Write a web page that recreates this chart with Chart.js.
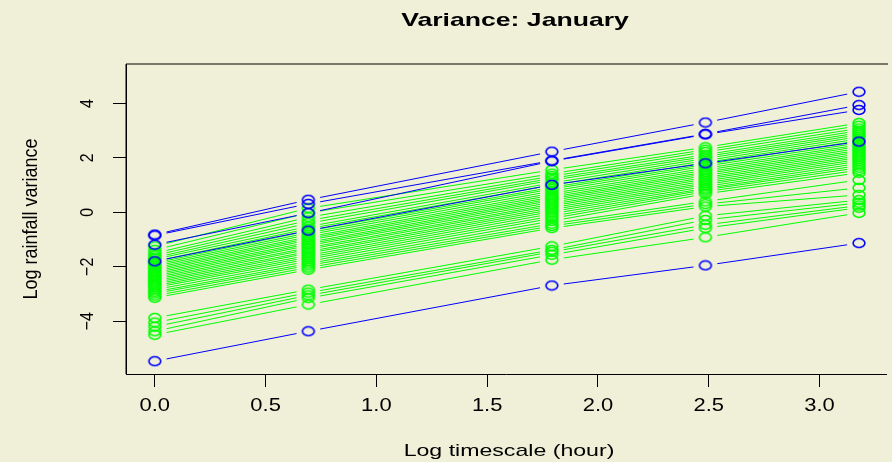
<!DOCTYPE html>
<html>
<head>
<meta charset="utf-8">
<script src="https://cdn.jsdelivr.net/npm/chart.js@4/dist/chart.umd.min.js"></script>
<style>
  html, body { margin: 0; padding: 0; background: #F0F0D8; }
  #wrap { width: 892px; height: 462px; }
</style>
</head>
<body>
<div id="wrap"><canvas id="varChart" width="892" height="462"></canvas></div>
<script>
// log timescale (hours 1, 2, 6, 12, 24)
const logHours = [0, 0.693, 1.792, 2.485, 3.178];
const xTicks = [0, 0.5, 1, 1.5, 2, 2.5, 3];
const yTicks = [-4, -2, 0, 2, 4];

// blue stations
const blueSeries = [
    [-0.82, 0.46, 2.23, 3.30, 4.43],
    [-0.85, 0.31, 1.90, 2.88, 3.94],
    [-1.19, -0.03, 1.88, 2.86, 3.76],
    [-1.80, -0.67, 1.01, 1.80, 2.60],
    [-5.47, -4.37, -2.69, -1.95, -1.13]
];

// green stations
const greenSeries = [
    [-1.25, 0.15, 1.56, 2.39, 3.28],
    [-1.38, -0.02, 1.42, 2.30, 3.18],
    [-1.50, -0.18, 1.33, 2.22, 3.08],
    [-1.58, -0.30, 1.25, 2.12, 3.00],
    [-1.66, -0.40, 1.18, 2.05, 2.92],
    [-1.72, -0.52, 1.08, 1.98, 2.85],
    [-1.80, -0.60, 1.00, 1.90, 2.78],
    [-1.86, -0.68, 0.92, 1.83, 2.70],
    [-1.92, -0.75, 0.86, 1.76, 2.63],
    [-1.98, -0.82, 0.78, 1.70, 2.55],
    [-2.04, -0.90, 0.70, 1.62, 2.48],
    [-2.10, -0.96, 0.63, 1.55, 2.42],
    [-2.16, -1.02, 0.56, 1.48, 2.35],
    [-2.22, -1.10, 0.50, 1.42, 2.28],
    [-2.28, -1.16, 0.44, 1.35, 2.22],
    [-2.34, -1.22, 0.37, 1.28, 2.15],
    [-2.40, -1.30, 0.30, 1.22, 2.08],
    [-2.46, -1.36, 0.24, 1.15, 2.02],
    [-2.52, -1.44, 0.17, 1.08, 1.95],
    [-2.58, -1.50, 0.10, 1.02, 1.88],
    [-2.64, -1.58, 0.03, 0.95, 1.80],
    [-2.70, -1.65, -0.05, 0.88, 1.72],
    [-2.76, -1.72, -0.14, 0.83, 1.64],
    [-2.84, -1.80, -0.22, 0.76, 1.55],
    [-2.92, -1.88, -0.32, 0.68, 1.45],
    [-2.98, -1.95, -0.42, 0.40, 1.19],
    [-3.06, -2.03, -0.50, 0.30, 0.90],
    [-3.14, -2.11, -0.58, 0.21, 0.64],
    [-3.88, -2.84, -1.25, -0.13, 0.45],
    [-4.05, -2.95, -1.38, -0.28, 0.35],
    [-4.20, -3.05, -1.45, -0.46, 0.25],
    [-4.37, -3.15, -1.56, -0.58, 0.17],
    [-4.50, -3.39, -1.74, -0.92, -0.02]
];

const FONT = '"Liberation Sans", Arial, Helvetica, sans-serif';
const GAP = 12; // R type="b": lines stop short of the points

// the reference is a bit stretched sideways, so circles are ellipses
const ring = color => {
    const cv = document.createElement('canvas');
    cv.width = 16;
    cv.height = 12;
    const g = cv.getContext('2d');
    g.strokeStyle = color;
    g.lineWidth = 1.6;
    g.beginPath();
    g.ellipse(8, 6, 5.9, 4.5, 0, 0, Math.PI * 2);
    g.stroke();
    return cv;
};
const greenRing = ring('#00FF00');
const blueRing = ring('#0000FF');

const gapDash = ctx => {
    const len = Math.hypot(ctx.p1.x - ctx.p0.x, ctx.p1.y - ctx.p0.y);
    return [0, GAP, Math.max(len - 2 * GAP, 0), GAP + 1000];
};

const makeSet = (vals, color, icon, order) => ({
    data: vals.map((v, i) => ({ x: logHours[i], y: v })),
    borderColor: color,
    borderWidth: 1,
    pointStyle: icon,
    pointRadius: 5,
    fill: false,
    tension: 0,
    order: order,
    segment: { borderDash: gapDash }
});

const datasets = [
    ...greenSeries.map(s => makeSet(s, '#00FF00', greenRing, 2)),
    ...blueSeries.map(s => makeSet(s, '#0000FF', blueRing, 1))
];

// text helper: x, y centre, sideways stretch sx, rotation
const text = (c, str, x, y, font, sx, rot) => {
    c.save();
    c.translate(x, y);
    c.scale(sx, 1);
    if (rot) c.rotate(rot);
    c.font = font;
    c.textAlign = 'center';
    c.textBaseline = 'middle';
    c.fillStyle = '#000';
    c.fillText(str, 0, 0);
    c.restore();
};

const rLook = {
    id: 'rLook',
    beforeDraw(chart) {
        const c = chart.ctx;
        c.save();
        c.fillStyle = '#F0F0D8';
        c.fillRect(0, 0, chart.width, chart.height);
        c.restore();
    },
    afterDraw(chart) {
        const c = chart.ctx;
        const a = chart.chartArea;
        const xs = chart.scales.x;
        const ys = chart.scales.y;
        c.save();
        c.strokeStyle = '#000';
        c.lineWidth = 1;
        c.beginPath();
        c.moveTo(a.left, a.bottom);
        c.lineTo(a.left, a.top);
        c.lineTo(a.right + 2, a.top);
        c.stroke();
        c.restore();

        text(c, 'Variance: January', 515, 21, 'bold 19px ' + FONT, 1.4);
        text(c, 'Log timescale (hour)', 509, 451, '17px ' + FONT, 1.36);
        text(c, 'Log rainfall variance', 32, (a.top + a.bottom) / 2, '18px ' + FONT, 1.1, -Math.PI / 2);

        xTicks.forEach(v => {
            text(c, v.toFixed(1), xs.getPixelForValue(v), 406, '18px ' + FONT, 1.22);
        });
        yTicks.forEach(v => {
            const lab = v < 0 ? '\u2212' + Math.abs(v) : String(v);
            text(c, lab, 88, ys.getPixelForValue(v), '16px ' + FONT, 1.16, -Math.PI / 2);
        });
    }
};

new Chart(document.getElementById('varChart'), {
    type: 'line',
    data: { datasets: datasets },
    options: {
        responsive: false,
        animation: false,
        layout: { padding: { top: 64, right: 0, bottom: 0, left: 0 } },
        plugins: {
            legend: { display: false },
            tooltip: { enabled: false },
            title: { display: false }
        },
        scales: {
            x: {
                type: 'linear',
                min: -0.13,
                max: 3.30,
                afterBuildTicks: s => { s.ticks = xTicks.map(v => ({ value: v })); },
                afterFit: s => { s.height = 88; s.paddingLeft = 0; s.paddingRight = 0; },
                grid: { drawOnChartArea: false, drawTicks: true, tickLength: 13, color: '#000' },
                border: { display: true, color: '#000', width: 1 },
                ticks: { display: false }
            },
            y: {
                type: 'linear',
                min: -5.94,
                max: 5.45,
                afterBuildTicks: s => { s.ticks = yTicks.map(v => ({ value: v })); },
                afterFit: s => { s.width = 126; s.paddingTop = 0; s.paddingBottom = 0; },
                grid: { drawOnChartArea: false, drawTicks: true, tickLength: 13, color: '#000' },
                border: { display: true, color: '#000', width: 1 },
                ticks: { display: false }
            }
        }
    },
    plugins: [rLook]
});
</script>
</body>
</html>
